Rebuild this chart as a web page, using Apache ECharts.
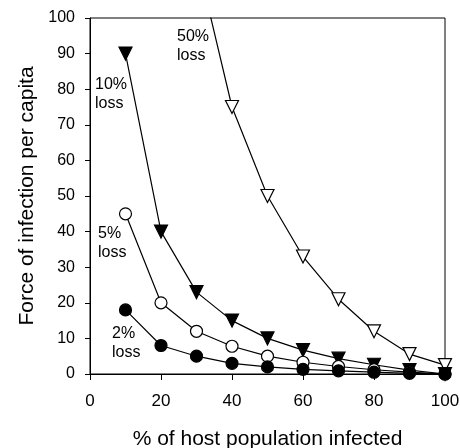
<!DOCTYPE html>
<html>
<head>
<meta charset="utf-8">
<script src="https://cdn.jsdelivr.net/npm/echarts@6/dist/echarts.min.js"></script>
<style>
  html, body { margin: 0; padding: 0; background: #fff; }
  #chart { width: 460px; height: 448px; }
</style>
</head>
<body>
<div id="chart"></div>
<script>
  // x = % of host population infected
  var xInfected = [10, 20, 30, 40, 50, 60, 70, 80, 90, 100]
  // force of infection per capita
  var loss2 = [18, 8, 5, 3, 2, 1.3, 0.9, 0.5, 0.2, 0]
  var loss5 = [45, 20, 12, 7.8, 5, 3.3, 2.1, 1.2, 0.5, 0]
  var loss10 = [90, 40, 23, 15, 10, 6.7, 4.3, 2.6, 1.1, 0]
  var loss50x = [30, 40, 50, 60, 70, 80, 90, 100]
  var loss50 = [117, 75, 50, 33, 21, 12, 5.6, 2.5]

  function pairs(xs, ys) {
    var out = []
    for (var i = 0; i < xs.length; i++) out.push([xs[i], ys[i]])
    return out
  }

  var font = 'Liberation Sans, Arial, sans-serif'
  var lineStyle = { color: '#000', width: 1.2 }

  function makeSeries(name, data, symbol, fill, rotate) {
    return {
      name: name,
      type: 'line',
      data: data,
      symbol: symbol,
      symbolSize: symbol === 'circle' ? 12 : 13,
      symbolRotate: rotate || 0,
      showAllSymbol: true,
      clip: true,
      lineStyle: lineStyle,
      itemStyle: { color: fill, borderColor: '#000', borderWidth: 1.2 },
      emphasis: { disabled: true },
      animation: false
    }
  }

  var myChart = echarts.init(document.getElementById('chart'))
  var option = {
    backgroundColor: '#fff',
    animation: false,
    grid: {
      left: 90, right: 15, top: 18, bottom: 74,
      outerBoundsMode: 'none',
      containLabel: false,
      show: true, borderColor: '#000', borderWidth: 1
    },
    xAxis: {
      type: 'value',
      min: 0, max: 100, interval: 20,
      name: '% of host population infected',
      nameLocation: 'middle',
      nameGap: 55,
      nameTextStyle: { fontFamily: font, fontSize: 21, color: '#000' },
      axisLine: { show: true, lineStyle: { color: '#000', width: 1 } },
      axisTick: { show: true, inside: false, length: 6, lineStyle: { color: '#000' } },
      axisLabel: { fontFamily: font, fontSize: 17, color: '#000', margin: 19 },
      splitLine: { show: false }
    },
    yAxis: {
      type: 'value',
      min: 0, max: 100, interval: 10,
      name: 'Force of infection per capita',
      nameLocation: 'middle',
      nameGap: 48,
      nameTextStyle: { fontFamily: font, fontSize: 21, color: '#000' },
      axisLine: { show: true, lineStyle: { color: '#000', width: 1 } },
      axisTick: { show: true, inside: false, length: 5, lineStyle: { color: '#000' } },
      axisLabel: { fontFamily: font, fontSize: 16, color: '#000', margin: 15 },
      splitLine: { show: false }
    },
    series: [
      makeSeries('50% loss', pairs(loss50x, loss50), 'triangle', '#fff', 180),
      makeSeries('10% loss', pairs(xInfected, loss10), 'triangle', '#000', 180),
      makeSeries('5% loss', pairs(xInfected, loss5), 'circle', '#fff'),
      makeSeries('2% loss', pairs(xInfected, loss2), 'circle', '#000')
    ],
    graphic: [
      { type: 'text', left: 177, top: 27, style: { text: '50%\nloss', font: '16px ' + font, fill: '#000', lineHeight: 19 } },
      { type: 'text', left: 95, top: 75, style: { text: '10%\nloss', font: '16px ' + font, fill: '#000', lineHeight: 19 } },
      { type: 'text', left: 98, top: 224, style: { text: '5%\nloss', font: '16px ' + font, fill: '#000', lineHeight: 19 } },
      { type: 'text', left: 112, top: 324, style: { text: '2%\nloss', font: '16px ' + font, fill: '#000', lineHeight: 19 } }
    ]
  }
  myChart.setOption(option)
</script>
</body>
</html>
